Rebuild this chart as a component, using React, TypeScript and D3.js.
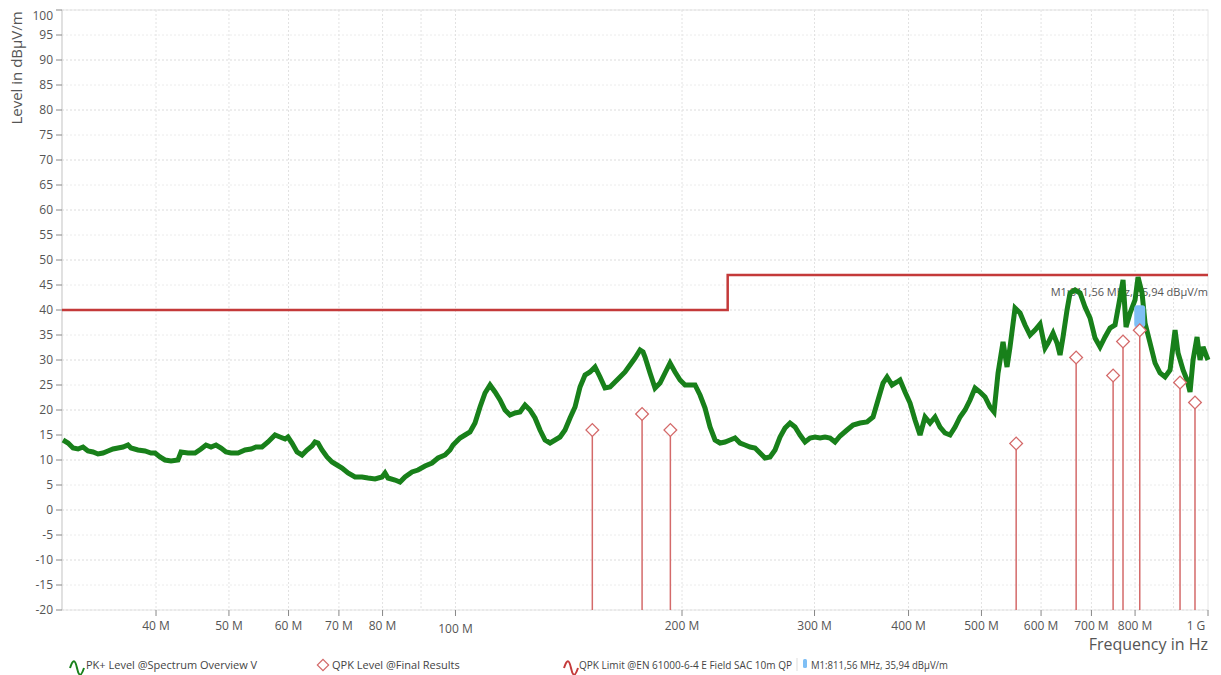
import * as d3 from 'd3';

// PK+ trace, frequency in MHz / level in dBµV/m
const pkFreq = [
  30.09, 30.56, 31.03, 31.51, 31.99, 32.48, 32.99, 33.49, 34.01, 34.53, 35.07, 35.61, 36.16, 36.71, 37.05,
  37.85, 38.67, 39.39, 39.88, 40.49, 41.11, 41.88, 42.78, 43.18, 44.11, 45.07, 45.9, 46.61, 47.33, 48.06,
  48.8, 49.55, 50.32, 51.41, 52.52, 53.49, 54.32, 55.32, 56.35, 57.57, 58.46, 59.36, 59.9, 60.64, 61.58,
  62.53, 63.49, 64.47, 65.06, 65.66, 66.47, 67.5, 68.54, 69.59, 70.67, 71.98, 73.54, 75.13, 76.52, 78.18,
  79.87, 80.61, 81.35, 83.11, 84.39, 85.69, 87.55, 89.17, 91.1, 93.07, 94.8, 96.85, 98.34, 99.25, 101.4,
  102.96, 104.55, 106.16, 107.8, 109.46, 111.15, 112.86, 114.6, 116.37, 118.16, 119.99, 121.84, 123.71,
  125.62, 127.56, 129.52, 131.52, 133.55, 135.61, 137.7, 139.82, 141.98, 144.17, 146.39, 148.65, 150.94,
  153.27, 155.63, 158.03, 160.46, 162.94, 165.45, 168.0, 170.59, 173.22, 175.89, 177.51, 178.6, 181.35,
  184.15, 186.99, 189.87, 192.8, 195.77, 198.79, 201.86, 204.97, 208.13, 211.34, 214.6, 217.9, 221.26,
  224.67, 228.14, 231.66, 235.23, 238.85, 242.54, 246.28, 250.07, 253.93, 257.84, 261.82, 265.85, 269.95,
  274.11, 278.34, 282.63, 286.99, 291.41, 295.91, 300.47, 305.1, 309.8, 314.58, 319.43, 324.36, 331.38,
  337.52, 344.83, 352.29, 358.82, 364.35, 369.97, 374.53, 380.3, 386.16, 389.72, 395.73, 401.84, 408.03,
  414.32, 420.71, 427.19, 433.78, 440.47, 447.26, 454.16, 461.16, 468.27, 475.49, 482.82, 490.26, 497.82,
  505.49, 513.29, 519.61, 526.0, 534.11, 540.69, 545.68, 554.09, 562.63, 571.31, 580.12, 589.06, 598.14,
  607.36, 612.97, 622.42, 630.08, 635.89, 641.75, 649.66, 655.65, 665.76, 676.02, 686.45, 697.03, 707.78,
  718.69, 729.77, 741.02, 752.45, 761.71, 771.09, 778.2, 787.79, 799.94, 807.31, 817.25, 824.79, 837.51,
  850.42, 863.53, 876.85, 890.37, 904.1, 912.43, 926.5, 937.91, 946.56, 955.28, 967.05, 975.97, 984.97, 1000,
];
const pkLevel = [
  14.0, 13.4, 12.4, 12.2, 12.6, 11.8, 11.6, 11.2, 11.4, 11.8, 12.2, 12.4, 12.6, 13.0, 12.4,
  12.0, 11.8, 11.4, 11.4, 10.6, 10.0, 9.8, 10.0, 11.6, 11.4, 11.4, 12.2, 13.0, 12.6, 13.0,
  12.4, 11.6, 11.4, 11.4, 12.0, 12.2, 12.6, 12.6, 13.6, 15.0, 14.6, 14.2, 14.6, 13.4, 11.6,
  11.0, 12.0, 12.8, 13.6, 13.4, 12.0, 10.6, 9.6, 9.0, 8.4, 7.4, 6.6, 6.6, 6.4, 6.2,
  6.6, 7.4, 6.4, 6.0, 5.6, 6.6, 7.6, 8.0, 8.8, 9.4, 10.4, 11.0, 12.0, 13.0, 14.4,
  15.0, 15.6, 17.4, 20.6, 23.4, 25.0, 23.6, 22.0, 20.0, 19.0, 19.4, 19.6, 21.0,
  20.0, 18.4, 16.0, 14.0, 13.4, 14.0, 14.6, 16.0, 18.4, 20.6, 24.6, 27.0, 27.6,
  28.6, 26.6, 24.4, 24.6, 25.6, 26.6, 27.6, 29.0, 30.4, 32.0, 31.6, 30.6, 27.4,
  24.4, 25.4, 27.4, 29.4, 27.6, 26.0, 25.0, 25.0, 25.0, 23.0, 20.4, 16.6, 14.0,
  13.4, 13.6, 14.0, 14.4, 13.4, 13.0, 12.6, 12.4, 11.4, 10.4, 10.6, 12.0, 14.6,
  16.4, 17.4, 16.6, 15.0, 13.6, 14.4, 14.6, 14.4, 14.6, 14.4, 13.6, 14.8, 16.0,
  17.0, 17.4, 17.6, 18.6, 22.0, 25.4, 26.6, 25.0, 25.6, 26.0, 23.6, 21.4, 18.0,
  15.0, 18.6, 17.4, 18.6, 16.6, 15.4, 15.0, 16.6, 18.6, 20.0, 22.0, 24.4, 23.6,
  22.6, 20.6, 19.6, 27.4, 33.6, 28.6, 32.6, 40.4, 39.4, 37.0, 35.0, 36.0, 37.2,
  32.4, 33.4, 35.4, 33.4, 31.0, 34.6, 40.0, 43.4, 44.0, 43.4, 40.6, 38.4, 34.4,
  32.6, 34.6, 36.4, 37.0, 41.4, 46.0, 36.6, 39.4, 42.0, 46.6, 43.4, 37.4, 33.4,
  29.4, 27.4, 26.6, 28.0, 36.0, 31.4, 28.0, 26.0, 23.6, 30.0, 34.6, 30.0, 32.6, 30.0,
];

// QPK final results
const qpkFreq = [152.0, 177.0, 193.0, 556.0, 668.0, 748.0, 771.0, 811.56, 918.0, 961.0];
const qpkLevel = [16.0, 19.2, 16.0, 13.3, 30.5, 26.9, 33.7, 35.94, 25.5, 21.5];

// limit line EN 61000-6-4
const limitFreq = [30, 230, 230, 1000];
const limitLevel = [40, 40, 47, 47];

const markerFreq = 811.56;
const markerLevel = 35.94;

const yTicks = d3.range(-20, 101, 5);
const xTickVals = [40, 50, 60, 70, 80, 100, 200, 300, 400, 500, 600, 700, 800, 1000];
const xTickText = ['40 M', '50 M', '60 M', '70 M', '80 M', '100 M', '200 M', '300 M', '400 M', '500 M', '600 M', '700 M', '800 M', '1 G'];
const xGridVals = [40, 50, 60, 70, 80, 90, 100, 200, 300, 400, 500, 600, 700, 800, 900];

const font = "'Segoe UI', 'Open Sans', 'Noto Sans', sans-serif";
const green = '#18801a';
const red = '#c43a3a';
const stemRed = '#d46a6a';

const App = () => {
  const width = 1221;
  const height = 675;
  const left = 62;
  const right = 1208;
  const top = 10;
  const bottom = 610;

  const x = d3.scaleLog().domain([30, 1000]).range([left, right]);
  const y = d3.scaleLinear().domain([-20, 100]).range([bottom, top]);

  const pkLine = d3
    .line<number>()
    .x((_, i) => x(pkFreq[i]))
    .y((d) => y(d));
  const limitLine = d3
    .line<number>()
    .x((_, i) => x(limitFreq[i]))
    .y((d) => y(d));

  const wave = (x0: number, y0: number) =>
    `M${x0},${y0} c3,-9 5,-9 7,0 s4,9 7,0`;

  return (
    <svg
      width={width}
      height={height}
      style={{ position: 'absolute', left: 0, top: 0, background: '#fff', fontFamily: font }}
    >
      {/* grid */}
      {yTicks.map((t) => (
        <line
          key={'gy' + t}
          x1={left}
          x2={right}
          y1={y(t)}
          y2={y(t)}
          stroke={t % 10 === 0 ? '#dcdcdc' : '#ececec'}
          strokeDasharray="2,2"
        />
      ))}
      {xGridVals.map((f) => (
        <line
          key={'gx' + f}
          x1={x(f)}
          x2={x(f)}
          y1={top}
          y2={bottom}
          stroke="#e2e2e2"
          strokeDasharray="2,2"
        />
      ))}
      <rect x={left} y={top} width={right - left} height={bottom - top} fill="none" stroke="#e6e6e6" />
      <line x1={left} x2={left} y1={top} y2={bottom} stroke="#cfcfcf" />

      {/* y axis */}
      {yTicks.map((t) => (
        <g key={'ty' + t}>
          <line x1={left - 6} x2={left} y1={y(t)} y2={y(t)} stroke="#888" />
          <text
            x={left - 9}
            y={y(t) + (t === 100 ? 6 : 0)}
            dy="0.35em"
            textAnchor="end"
            fontSize={12}
            fill="#555"
          >
            {t}
          </text>
        </g>
      ))}
      <text
        transform={`translate(22,${top + 58}) rotate(-90)`}
        textAnchor="middle"
        fontSize={15}
        fill="#555"
      >
        Level in dBµV/m
      </text>

      {/* x axis */}
      {xTickVals.map((f, i) => (
        <g key={'tx' + f}>
          <line x1={x(f)} x2={x(f)} y1={bottom} y2={bottom + 6} stroke="#888" />
          <text
            x={x(f) - (f === 1000 ? 12 : 0)}
            y={bottom + 20 + (f === 100 ? 3 : 0)}
            textAnchor="middle"
            fontSize={12}
            fill="#555"
          >
            {xTickText[i]}
          </text>
        </g>
      ))}
      <text x={right} y={bottom + 40} textAnchor="end" fontSize={16} fill="#555">
        Frequency in Hz
      </text>

      {/* limit */}
      <path d={limitLine(limitLevel) || ''} fill="none" stroke={red} strokeWidth={2.5} />

      {/* QPK stems */}
      {qpkFreq.map((f, i) => (
        <line
          key={'s' + i}
          x1={x(f)}
          x2={x(f)}
          y1={y(-20)}
          y2={y(qpkLevel[i]) + 6}
          stroke={stemRed}
          strokeWidth={1.5}
        />
      ))}

      {/* marker label */}
      <text x={right} y={y(markerLevel) - 34} textAnchor="end" fontSize={11} fill="#555">
        M1:811,56 MHz, 35,94 dBµV/m
      </text>

      {/* PK+ trace */}
      <path
        d={pkLine(pkLevel) || ''}
        fill="none"
        stroke={green}
        strokeWidth={5}
        strokeLinejoin="miter"
        strokeMiterlimit={3}
      />

      {/* marker */}
      <rect
        x={x(markerFreq) - 5.5}
        y={y(markerLevel) - 25}
        width={11}
        height={22}
        rx={3}
        fill="#7fbff5"
      />

      {/* QPK diamonds */}
      {qpkFreq.map((f, i) => (
        <rect
          key={'d' + i}
          x={-4.5}
          y={-4.5}
          width={9}
          height={9}
          transform={`translate(${x(f)},${y(qpkLevel[i])}) rotate(45)`}
          fill="#fff"
          stroke={stemRed}
          strokeWidth={1.3}
        />
      ))}

      {/* legend */}
      <g fontSize={11} fill="#444">
        <path d={wave(70, 668)} fill="none" stroke={green} strokeWidth={2} />
        <text x={86} y={669}>PK+ Level @Spectrum Overview V</text>
        <rect
          x={-4}
          y={-4}
          width={8}
          height={8}
          transform="translate(323,665) rotate(45)"
          fill="#fff"
          stroke={stemRed}
          strokeWidth={1.2}
        />
        <text x={332} y={669}>QPK Level @Final Results</text>
        <path d={wave(564, 668)} fill="none" stroke={red} strokeWidth={2} />
        <text x={579} y={669} textLength={213} lengthAdjust="spacingAndGlyphs">
          QPK Limit @EN 61000-6-4 E Field SAC 10m QP
        </text>
        <line x1={797} x2={797} y1={658} y2={671} stroke="#ddd" />
        <rect x={803} y={659} width={4} height={9} rx={1.5} fill="#7fbff5" />
        <text x={811} y={669} textLength={137} lengthAdjust="spacingAndGlyphs">
          M1:811,56 MHz, 35,94 dBµV/m
        </text>
      </g>
    </svg>
  );
};

export default App;
